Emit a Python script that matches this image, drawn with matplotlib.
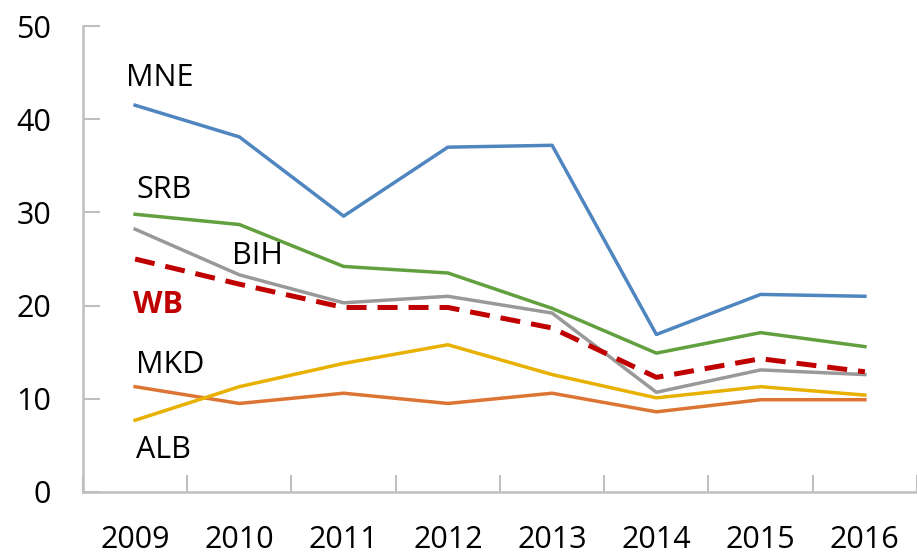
import numpy as np
import matplotlib
matplotlib.use("Agg")
import matplotlib.pyplot as plt

plt.rcParams['font.family'] = ['Open Sans', 'DejaVu Sans']

years = ['2009', '2010', '2011', '2012', '2013', '2014', '2015', '2016']
mne = [41.5, 38.1, 29.6, 37.0, 37.2, 16.9, 21.2, 21.0]
srb = [29.8, 28.7, 24.2, 23.5, 19.7, 14.9, 17.1, 15.6]
bih = [28.2, 23.3, 20.3, 21.0, 19.2, 10.7, 13.1, 12.6]
wb = [25.0, 22.3, 19.8, 19.8, 17.6, 12.3, 14.3, 12.9]
mkd = [11.3, 9.5, 10.6, 9.5, 10.6, 8.6, 9.9, 9.9]
alb = [7.7, 11.3, 13.8, 15.8, 12.6, 10.1, 11.3, 10.4]

x = np.arange(len(years))

fig = plt.figure(figsize=(9.17, 5.57), dpi=100)
ax = fig.add_axes([0.0905, 0.1167, 0.9095, 0.8366])

ax.plot(x, mne, color='#4F86C0', lw=2.5)
ax.plot(x, mkd, color='#DC7433', lw=2.5)
ax.plot(x, alb, color='#E8B100', lw=2.5)
ax.plot(x, srb, color='#62A03F', lw=2.5)
ax.plot(x, bih, color='#999999', lw=2.5)
ax.plot(x, wb, color='#C00000', lw=3.6, dashes=(4, 2.2))

# series labels
fs = 22
ax.text(-0.09, 44.4, 'MNE', fontsize=fs, va='center')
ax.text(0.01, 32.4, 'SRB', fontsize=fs, va='center')
ax.text(0.93, 25.3, 'BIH', fontsize=fs, va='center')
ax.text(-0.02, 20.1, 'WB', fontsize=fs, va='center', color='#C00000', fontweight='bold')
ax.text(0.01, 13.6, 'MKD', fontsize=fs, va='center')
ax.text(0.01, 4.5, 'ALB', fontsize=fs, va='center')

ax.set_xlim(-0.5, 7.5)
ax.set_ylim(0, 50)

ax.set_xticks(np.arange(-0.5, 8, 1))
ax.set_xticklabels([])
ax.set_xticks(x, minor=True)
ax.set_xticklabels(years, minor=True, fontsize=fs)
ax.tick_params(axis='x', which='minor', length=0, pad=24)
ax.tick_params(axis='x', which='major', direction='in', length=12, width=1.5, color='#BFBFBF')

ax.set_yticks([0, 10, 20, 30, 40, 50])
ax.tick_params(axis='y', direction='in', length=12, width=1.5, color='#BFBFBF', labelsize=fs, pad=23)

for s in ['top', 'right']:
    ax.spines[s].set_visible(False)
for s in ['left', 'bottom']:
    ax.spines[s].set_color('#BFBFBF')
    ax.spines[s].set_linewidth(1.8)

fig.savefig('out.png', dpi=100)
